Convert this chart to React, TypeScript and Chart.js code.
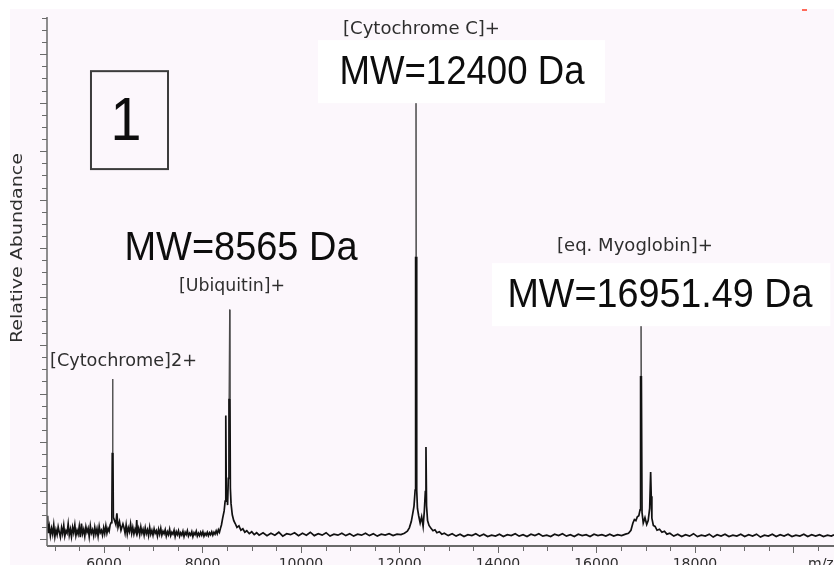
import React, { useEffect, useRef } from 'react';
import { Chart, registerables } from 'chart.js';

Chart.register(...registerables);

// ---------------- data ----------------
const xTickValues = [6000, 8000, 10000, 12000, 14000, 16000, 18000];
const xTickLabels = ['6000', '8000', '10000', '12000', '14000', '16000', '18000'];
const axisUnitLabel = 'm/z';
const yAxisTitle = 'Relative Abundance';

const massMin = 4843;
const massMax = 20823;
const abundanceMin = -1.44;
const abundanceMax = 107.67;

// [mass, relative abundance]
const noiseLeft: [number, number][] = [
  [4845, 1.8], [4855, 4.8], [4868, 1.2], [4890, 2.6], [4912, 0.7], [4935, 2.2], [4958, 1.0], [4980, 2.9],
  [5003, 0.5], [5025, 1.9], [5048, 0.9], [5070, 2.5], [5093, 1.4], [5115, 0.4], [5138, 2.3], [5160, 1.1],
  [5183, 2.8], [5205, 0.6], [5228, 1.7], [5250, 1.2], [5273, 3.1], [5295, 0.8], [5318, 2.0], [5340, 0.5],
  [5363, 2.4], [5385, 1.3], [5408, 2.9], [5430, 0.7], [5453, 1.8], [5475, 1.0], [5498, 2.6], [5520, 0.4],
  [5543, 3.2], [5565, 1.1], [5588, 2.0], [5610, 0.6], [5633, 2.5], [5655, 1.4], [5678, 2.2], [5700, 0.5],
  [5723, 2.7], [5745, 1.2], [5768, 1.9], [5790, 0.7], [5813, 2.4], [5835, 1.0], [5858, 2.1], [5880, 0.6],
  [5903, 2.6], [5925, 1.3], [5948, 1.8], [5970, 0.8], [5993, 2.3], [6015, 1.1], [6038, 2.7], [6060, 1.2],
  [6083, 2.2], [6105, 1.6], [6125, 2.9], [6145, 3.4],
];

const peakCytochrome2: [number, number][] = [
  [6160, 4.8], [6168, 17.8], [6175, 33.0], [6182, 17.8], [6190, 4.5], [6215, 3.8], [6240, 3.0],
  [6262, 5.3], [6285, 2.4], [6315, 3.6], [6345, 1.8], [6385, 3.1],
];

const noiseMid1: [number, number][] = [
  [6405, 2.4], [6428, 1.2], [6450, 2.9], [6473, 1.0], [6495, 2.3], [6518, 1.5], [6540, 3.1], [6563, 1.2],
  [6585, 2.4], [6608, 1.0], [6630, 2.0], [6650, 1.4], [6665, 3.9], [6680, 1.3], [6703, 2.2], [6725, 0.9],
  [6748, 2.5], [6770, 1.2], [6793, 2.0], [6815, 0.8], [6838, 2.3], [6860, 1.1], [6883, 1.9], [6905, 0.7],
  [6928, 2.4], [6950, 1.0], [6973, 1.8], [6995, 0.8], [7018, 2.1], [7040, 1.2], [7063, 1.7], [7085, 0.6],
  [7108, 2.0], [7130, 1.0], [7153, 2.2], [7175, 0.8], [7198, 1.6], [7220, 1.1], [7243, 1.9], [7265, 0.6],
  [7288, 1.5], [7310, 0.9], [7333, 2.0], [7355, 0.7], [7378, 1.4], [7400, 1.0], [7423, 1.8], [7445, 0.5],
  [7468, 1.5], [7490, 0.9], [7513, 1.7], [7535, 0.6], [7558, 1.3], [7580, 0.8], [7603, 1.6], [7625, 0.5],
  [7648, 1.4], [7670, 0.9], [7693, 1.7], [7715, 0.6], [7738, 1.2], [7760, 0.8], [7783, 1.5], [7805, 0.5],
  [7828, 1.3], [7850, 0.9], [7873, 1.6], [7895, 0.6], [7918, 1.2], [7940, 0.7], [7963, 1.4], [7985, 0.8],
  [8008, 1.5], [8030, 0.6], [8053, 1.2], [8075, 0.8], [8098, 1.4], [8120, 0.7], [8143, 1.3], [8165, 0.9],
  [8188, 1.5], [8210, 0.8], [8233, 1.4], [8255, 1.0], [8278, 1.7], [8300, 1.1], [8323, 1.9], [8345, 1.4],
  [8365, 2.2], [8385, 2.9], [8410, 4.3], [8440, 5.8],
];

const peakUbiquitin: [number, number][] = [
  [8460, 7.8], [8470, 12.0], [8477, 25.5], [8484, 9.0], [8495, 9.8], [8510, 7.0], [8525, 12.5],
  [8538, 29.0], [8550, 47.3], [8558, 29.0], [8566, 10.5], [8580, 7.3], [8605, 5.0], [8635, 3.8],
  [8665, 3.2], [8700, 2.4], [8740, 2.7], [8780, 1.8], [8820, 2.1], [8860, 1.4], [8900, 1.7],
  [8950, 1.1], [9000, 1.5], [9050, 0.9], [9100, 1.3],
];

const noiseMid2: [number, number][] = [
  [9150, 0.8], [9230, 1.3], [9310, 0.7], [9390, 1.2], [9470, 0.8], [9550, 1.4], [9630, 0.6], [9710, 1.1],
  [9790, 0.9], [9870, 1.3], [9950, 0.7], [10030, 1.2], [10110, 0.8], [10190, 1.4], [10270, 0.7], [10350, 1.1],
  [10430, 0.8], [10510, 1.3], [10590, 0.6], [10670, 1.0], [10750, 0.8], [10830, 1.2], [10910, 0.7], [10990, 1.1],
  [11070, 0.6], [11150, 1.0], [11230, 0.8], [11310, 1.2], [11390, 0.7], [11470, 1.1], [11550, 0.6], [11630, 1.0],
  [11710, 0.8], [11790, 1.1], [11870, 0.7], [11950, 1.0], [12030, 0.9], [12100, 1.2], [12160, 1.6], [12200, 2.3],
  [12240, 3.6], [12270, 5.3],
];

const peakCytochromeC: [number, number][] = [
  [12295, 6.8], [12318, 10.1], [12328, 58.2], [12335, 101.0], [12342, 58.2], [12350, 10.1], [12365, 6.3],
  [12390, 4.8], [12420, 3.3], [12450, 4.6], [12480, 2.6], [12505, 5.8], [12525, 9.8], [12538, 19.0],
  [12550, 6.8], [12570, 3.8], [12600, 2.8], [12640, 2.2], [12680, 1.7], [12720, 1.9], [12760, 1.3],
  [12810, 1.5], [12860, 1.0], [12910, 1.2],
];

const noiseMid3: [number, number][] = [
  [12990, 0.7], [13070, 1.1], [13150, 0.6], [13230, 1.0], [13310, 0.5], [13390, 0.9], [13470, 0.7], [13550, 1.1],
  [13630, 0.6], [13710, 1.0], [13790, 0.5], [13870, 0.8], [13950, 0.6], [14030, 1.0], [14110, 0.5], [14190, 0.9],
  [14270, 0.7], [14350, 1.1], [14430, 0.6], [14510, 0.9], [14590, 0.5], [14670, 1.0], [14750, 0.7], [14830, 1.1],
  [14910, 0.6], [14990, 0.8], [15070, 0.5], [15150, 1.0], [15230, 0.7], [15310, 1.1], [15390, 0.6], [15470, 0.9],
  [15550, 0.5], [15630, 1.0], [15710, 0.7], [15790, 0.9], [15870, 0.5], [15950, 1.0], [16030, 0.7], [16110, 0.9],
  [16190, 0.6], [16270, 1.0], [16350, 0.6], [16430, 0.9], [16510, 0.7], [16590, 1.0], [16650, 1.2], [16700, 1.8],
  [16740, 3.3], [16770, 4.0], [16800, 3.8], [16830, 4.6],
];

const peakMyoglobin: [number, number][] = [
  [16860, 4.8], [16885, 6.0], [16896, 33.6], [16904, 50.0], [16912, 33.6], [16925, 5.5], [16950, 3.3],
  [16985, 4.4], [17020, 3.0], [17050, 3.8], [17080, 6.3], [17100, 13.8], [17112, 8.8], [17125, 4.3],
  [17155, 2.8], [17190, 2.6], [17230, 1.8], [17280, 2.0], [17330, 1.4], [17380, 1.6], [17430, 1.0],
  [17490, 1.2],
];

const noiseRight: [number, number][] = [
  [17570, 0.6], [17650, 1.0], [17730, 0.5], [17810, 0.9], [17890, 0.6], [17970, 1.1], [18050, 0.5], [18130, 0.8],
  [18210, 0.6], [18290, 1.0], [18370, 0.4], [18450, 0.9], [18530, 0.6], [18610, 1.0], [18690, 0.5], [18770, 0.8],
  [18850, 0.6], [18930, 1.0], [19010, 0.5], [19090, 0.9], [19170, 0.6], [19250, 1.0], [19330, 0.4], [19410, 0.8],
  [19490, 0.6], [19570, 1.0], [19650, 0.5], [19730, 0.9], [19810, 0.6], [19890, 1.0], [19970, 0.5], [20050, 0.8],
  [20130, 0.6], [20210, 1.0], [20290, 0.5], [20370, 0.9], [20450, 0.6], [20530, 0.9], [20610, 0.5], [20690, 0.8],
  [20770, 0.6], [20823, 0.9],
];

const peakLabelTexts = ['[Cytochrome]2+', '[Ubiquitin]+', '[Cytochrome C]+', '[eq. Myoglobin]+'];
const mwLabelTexts = ['MW=8565 Da', 'MW=12400 Da', 'MW=16951.49 Da'];
const panelNumber = '1';

// ---------------- layout / style (annotation anchors in data units) ----------------
const BG_PINK = '#fcf7fc';
const TEXT_GRAY = '#2e2e2e';
const AXIS_GRAY = '#6a6a6a';

const peakLabelLayout = [
  { mass: 4904, ab: 36.7, align: 'left' as CanvasTextAlign, width: 147 },
  { mass: 8599, ab: 52.0, align: 'center' as CanvasTextAlign, width: 106 },
  { mass: 12447, ab: 105.0, align: 'center' as CanvasTextAlign, width: 157 },
  { mass: 16782, ab: 60.4, align: 'center' as CanvasTextAlign, width: 156 },
];
const mwLabelLayout = [
  { mass: 8782, ab: 59.8, width: 233, box: null as null | number[] },
  { mass: 13269, ab: 96.2, width: 245, box: [10345, 16173, 102.9, 89.9] },
  { mass: 17289, ab: 50.1, width: 305, box: [13878, 20750, 56.9, 43.9] },
];
const panelBox = [5736, 7300, 96.5, 76.3];
const panelTextAnchor = { mass: 6447, ab: 85.8 };

function drawFitted(
  ctx: CanvasRenderingContext2D,
  text: string,
  x: number,
  y: number,
  font: string,
  targetWidth: number,
  sy: number,
  align: CanvasTextAlign,
  color: string
) {
  ctx.save();
  ctx.font = font;
  const w = ctx.measureText(text).width;
  const sx = targetWidth / w;
  ctx.translate(x, y);
  ctx.scale(sx, sy);
  ctx.fillStyle = color;
  ctx.textAlign = align;
  ctx.textBaseline = 'middle';
  ctx.fillText(text, 0, 0);
  ctx.restore();
}

const decorPlugin = {
  id: 'msDecor',
  beforeDraw(chart: any) {
    const { ctx, width, height } = chart;
    ctx.save();
    ctx.fillStyle = '#ffffff';
    ctx.fillRect(0, 0, width, height);
    ctx.fillStyle = BG_PINK;
    ctx.fillRect(10, 9, width - 10, height - 9);
    ctx.fillStyle = '#ff6a5a';
    ctx.fillRect(802, 9, 5, 2);
    ctx.restore();
  },
  afterDatasetsDraw(chart: any) {
    const { ctx } = chart;
    const xs = chart.scales.x;
    const ys = chart.scales.y;
    const px = (m: number) => xs.getPixelForValue(m);
    const py = (a: number) => ys.getPixelForValue(a);

    // white label boxes (cover the peak tops)
    mwLabelLayout.forEach((l) => {
      if (!l.box) return;
      const [m0, m1, a0, a1] = l.box;
      ctx.save();
      ctx.fillStyle = '#ffffff';
      ctx.fillRect(px(m0), py(a0), px(m1) - px(m0), py(a1) - py(a0));
      ctx.restore();
    });

    // peak labels
    peakLabelTexts.forEach((t, i) => {
      const l = peakLabelLayout[i];
      drawFitted(ctx, t, px(l.mass), py(l.ab), '17px "DejaVu Sans"', l.width, 1, l.align, TEXT_GRAY);
    });

    // MW labels
    mwLabelTexts.forEach((t, i) => {
      const l = mwLabelLayout[i];
      drawFitted(ctx, t, px(l.mass), py(l.ab), '41px "Liberation Sans", Arial, sans-serif', l.width, 1, 'center', '#0d0d0d');
    });

    // panel number box
    const [b0, b1, c0, c1] = panelBox;
    ctx.save();
    ctx.strokeStyle = '#3c3c3c';
    ctx.lineWidth = 2;
    ctx.strokeRect(px(b0), py(c0), px(b1) - px(b0), py(c1) - py(c0));
    ctx.restore();
    ctx.save();
    ctx.font = '53px "Liberation Sans", Arial, sans-serif';
    ctx.translate(px(panelTextAnchor.mass), py(panelTextAnchor.ab));
    ctx.scale(1.05, 1.15);
    ctx.fillStyle = '#0d0d0d';
    ctx.textAlign = 'center';
    ctx.textBaseline = 'middle';
    ctx.fillText(panelNumber, 0, 0);
    ctx.restore();
  },
  afterDraw(chart: any) {
    const { ctx, chartArea } = chart;
    const xs = chart.scales.x;
    const ys = chart.scales.y;
    const { left, right, top, bottom } = chartArea;
    ctx.save();
    // y axis line
    ctx.strokeStyle = AXIS_GRAY;
    ctx.lineWidth = 1.5;
    ctx.beginPath();
    ctx.moveTo(left, top);
    ctx.lineTo(left, bottom);
    ctx.stroke();
    // x axis line
    ctx.lineWidth = 2;
    ctx.beginPath();
    ctx.moveTo(left, bottom);
    ctx.lineTo(right, bottom);
    ctx.stroke();
    // y ticks
    ctx.lineWidth = 1;
    for (let v = 0; v <= 107.5 + 1e-6; v += 2.5) {
      const y = Math.round(ys.getPixelForValue(v)) + 0.5;
      const major = Math.round(v / 2.5) % 4 === 0;
      ctx.beginPath();
      ctx.moveTo(left - (major ? 7 : 5), y);
      ctx.lineTo(left, y);
      ctx.stroke();
    }
    // x ticks
    for (let m = 5000; m <= massMax; m += 500) {
      const x = Math.round(xs.getPixelForValue(m)) + 0.5;
      const major = m % 2000 === 0;
      ctx.beginPath();
      ctx.moveTo(x, bottom + 1);
      ctx.lineTo(x, bottom + (major ? 7 : 5));
      ctx.stroke();
    }
    ctx.restore();

    // y title
    ctx.save();
    ctx.font = '16px "DejaVu Sans"';
    const w = ctx.measureText(yAxisTitle).width;
    ctx.translate(18, 248);
    ctx.rotate(-Math.PI / 2);
    ctx.scale(190 / w, 1);
    ctx.fillStyle = TEXT_GRAY;
    ctx.textAlign = 'center';
    ctx.textBaseline = 'middle';
    ctx.fillText(yAxisTitle, 0, 0);
    ctx.restore();

    // unit label
    ctx.save();
    ctx.font = '14px "DejaVu Sans"';
    ctx.fillStyle = TEXT_GRAY;
    ctx.textAlign = 'left';
    ctx.textBaseline = 'middle';
    ctx.fillText(axisUnitLabel, 808, 564);
    ctx.restore();
  },
};

export default function App() {
  const canvasRef = useRef<HTMLCanvasElement | null>(null);

  useEffect(() => {
    if (!canvasRef.current) return;
    const spectrum = [
      ...noiseLeft,
      ...peakCytochrome2,
      ...noiseMid1,
      ...peakUbiquitin,
      ...noiseMid2,
      ...peakCytochromeC,
      ...noiseMid3,
      ...peakMyoglobin,
      ...noiseRight,
    ].map(([m, a]) => ({ x: m, y: a }));

    const thick = (ctx: any) => Math.min(ctx.p0.parsed.y, ctx.p1.parsed.y) < 15;

    const chart = new Chart(canvasRef.current, {
      type: 'line',
      data: {
        datasets: [
          {
            label: 'Spectrum',
            data: spectrum,
            borderColor: '#111111',
            borderWidth: 1.7,
            pointRadius: 0,
            tension: 0,
            fill: false,
            segment: {
              borderWidth: (ctx: any) => (thick(ctx) ? 1.7 : 1),
              borderColor: (ctx: any) => (thick(ctx) ? '#111111' : '#4a4a4a'),
            },
          },
        ],
      },
      options: {
        animation: false,
        responsive: false,
        devicePixelRatio: 1,
        layout: { padding: { top: 17, left: 0, right: 0, bottom: 0 } },
        plugins: { legend: { display: false }, tooltip: { enabled: false } },
        scales: {
          x: {
            type: 'linear',
            min: massMin,
            max: massMax,
            grid: { display: false },
            border: { display: false },
            afterBuildTicks: (scale: any) => {
              scale.ticks = xTickValues.map((v) => ({ value: v }));
            },
            afterFit: (scale: any) => {
              scale.height = 19;
            },
            ticks: {
              autoSkip: false,
              maxRotation: 0,
              padding: 2,
              color: TEXT_GRAY,
              font: { family: 'DejaVu Sans', size: 14 },
              callback: (value: any) => {
                const i = xTickValues.indexOf(Number(value));
                return i >= 0 ? xTickLabels[i] : '';
              },
            },
          },
          y: {
            type: 'linear',
            min: abundanceMin,
            max: abundanceMax,
            grid: { display: false },
            border: { display: false },
            ticks: { display: false },
            afterFit: (scale: any) => {
              scale.width = 47;
            },
          },
        },
      },
      plugins: [decorPlugin],
    });
    return () => chart.destroy();
  }, []);

  return (
    <div style={{ position: 'fixed', left: 0, top: 0, width: 834, height: 565, overflow: 'hidden' }}>
      <canvas ref={canvasRef} width={834} height={565} style={{ display: 'block' }} />
    </div>
  );
}
